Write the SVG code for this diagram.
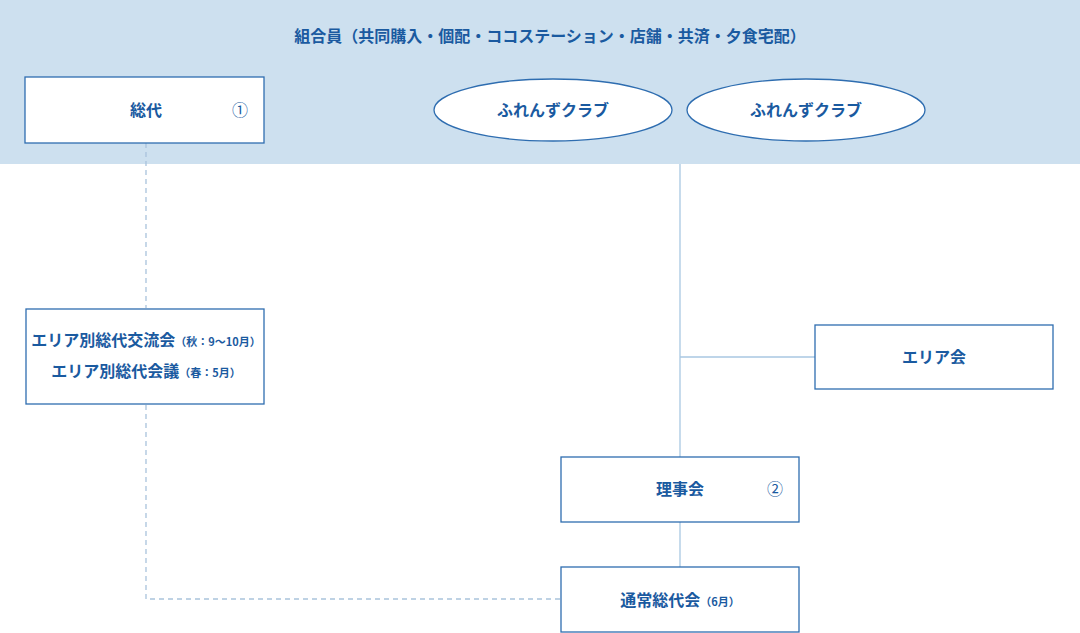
<svg xmlns="http://www.w3.org/2000/svg" width="1080" height="633" viewBox="0 0 1080 633">
<style>
text{font-family:"Noto Sans CJK JP","Noto Sans",sans-serif;font-weight:bold;fill:#1a5aa0;text-anchor:middle}
.b{fill:#fff;stroke:#2e6db0;stroke-width:1.3}
.t{font-size:16px}
.s{font-size:11px}
.c{stroke:#a9c8e2;stroke-width:1.3;fill:none}
.d{stroke:#a9c3dc;stroke-width:1.3;fill:none;stroke-dasharray:5,4}
</style>
<rect x="0" y="0" width="1080" height="164" fill="#cde0ef"/>
<text x="550" y="42" class="t">組合員（共同購入・個配・ココステーション・店舗・共済・夕食宅配）</text>
<g id="connectors">
<path class="d" d="M146 143V308M146 405V599H560"/>
<path class="c" d="M680 164V457M680 357H815M680 522V567"/>
</g>
<g id="soudai"><rect class="b" x="25" y="77" width="239" height="66"/><text x="146" y="116" class="t">総代</text><text x="240" y="116" class="t" style="font-weight:normal">①</text></g>
<g id="club1"><ellipse class="b" cx="553" cy="110" rx="119" ry="31"/><text x="553" y="116" class="t">ふれんずクラブ</text></g>
<g id="club2"><ellipse class="b" cx="806" cy="110" rx="119" ry="31"/><text x="806" y="116" class="t">ふれんずクラブ</text></g>
<g id="area-soudai"><rect class="b" x="26" y="309" width="238" height="95"/>
<text x="146" y="346"><tspan class="t">エリア別総代交流会</tspan><tspan class="s">（秋：9～10月）</tspan></text>
<text x="146" y="377"><tspan class="t">エリア別総代会議</tspan><tspan class="s">（春：5月）</tspan></text></g>
<g id="area"><rect class="b" x="815" y="325" width="238" height="64"/><text x="934" y="363" class="t">エリア会</text></g>
<g id="riji"><rect class="b" x="561" y="457" width="238" height="65"/><text x="680" y="495" class="t">理事会</text><text x="775" y="495" class="t" style="font-weight:normal">②</text></g>
<g id="tsujo"><rect class="b" x="561" y="567" width="238" height="65"/><text x="680" y="606"><tspan class="t">通常総代会</tspan><tspan class="s">（6月）</tspan></text></g>
</svg>
